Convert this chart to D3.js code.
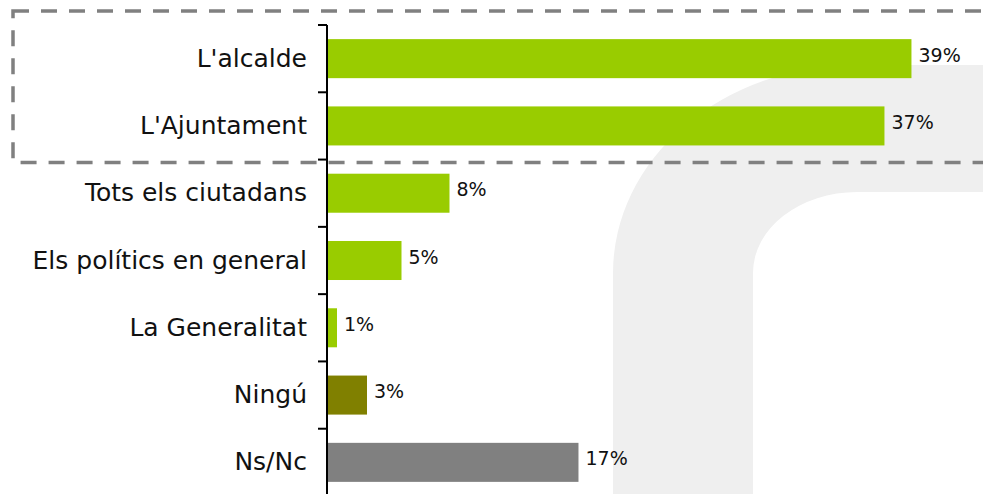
<!DOCTYPE html>
<html>
<head>
<meta charset="utf-8">
<script src="https://cdn.jsdelivr.net/npm/d3@7"></script>
<style>
  body { margin: 0; background: #fff; }
  svg { display: block; }
</style>
</head>
<body>
<div id="chart"></div>
<script>
// data (bars slightly off the rounded labels)
const categories = ["L'alcalde", "L'Ajuntament", "Tots els ciutadans", "Els polítics en general", "La Generalitat", "Ningú", "Ns/Nc"];
const values = [38.9, 37.1, 8.1, 4.9, 0.6, 2.6, 16.7];
const barColors = ["#99cc00", "#99cc00", "#99cc00", "#99cc00", "#99cc00", "#808000", "#808080"];

const width = 983;
const height = 494;
const axisX = 327;

const svg = d3.select("#chart").append("svg")
    .attr("width", width)
    .attr("height", height);

// light grey watermark arc in the background
svg.append("path")
    .attr("d", "M613,494 L613,273 A244,208 0 0 1 857,65 L990,65 L990,192 L857,192 A104,81 0 0 0 753,273 L753,494 Z")
    .attr("fill", "#efefef");

const x = d3.scaleLinear()
    .domain([0, 43.67])
    .range([axisX + 1, width]);

const y = d3.scaleBand()
    .domain(categories)
    .range([25, 496])
    .paddingInner(0.42)
    .paddingOuter(0.21);

const rows = categories.map((c, i) => ({ name: c, value: values[i], color: barColors[i] }));

svg.selectAll("rect.bar")
    .data(rows)
    .enter()
    .append("rect")
    .attr("class", "bar")
    .attr("x", x(0))
    .attr("y", d => y(d.name))
    .attr("width", d => x(d.value) - x(0))
    .attr("height", y.bandwidth())
    .attr("fill", d => d.color);

// value labels
svg.selectAll("text.val")
    .data(rows)
    .enter()
    .append("text")
    .attr("class", "val")
    .attr("x", d => x(d.value) + 7)
    .attr("y", d => y(d.name) + y.bandwidth() / 2 + 3)
    .attr("font-family", "DejaVu Sans")
    .attr("font-size", 19)
    .attr("fill", "#111")
    .text(d => Math.round(d.value) + "%");

// category labels
svg.selectAll("text.cat")
    .data(rows)
    .enter()
    .append("text")
    .attr("class", "cat")
    .attr("x", 307)
    .attr("y", d => y(d.name) + y.bandwidth() / 2 + 8)
    .attr("text-anchor", "end")
    .attr("font-family", "DejaVu Sans")
    .attr("font-size", 25)
    .attr("fill", "#111")
    .text(d => d.name);

// axis line with ticks between the categories
const half = y.step() * y.paddingInner() / 2;
const bounds = categories.map(c => y(c) - half).concat([y(categories[categories.length - 1]) + y.bandwidth() + half]);

svg.append("line")
    .attr("x1", axisX).attr("x2", axisX)
    .attr("y1", bounds[0]).attr("y2", height)
    .attr("stroke", "#000")
    .attr("stroke-width", 2);

svg.selectAll("line.tick")
    .data(bounds)
    .enter()
    .append("line")
    .attr("class", "tick")
    .attr("x1", axisX - 9).attr("x2", axisX)
    .attr("y1", d => d).attr("y2", d => d)
    .attr("stroke", "#000")
    .attr("stroke-width", 2);

// dashed highlight box round the first two rows
svg.append("rect")
    .attr("x", 13)
    .attr("y", 11)
    .attr("width", 1000)
    .attr("height", bounds[2] + 3 - 11)
    .attr("fill", "none")
    .attr("stroke", "#808080")
    .attr("stroke-width", 3.5)
    .attr("stroke-dasharray", "16,12");
</script>
</body>
</html>
